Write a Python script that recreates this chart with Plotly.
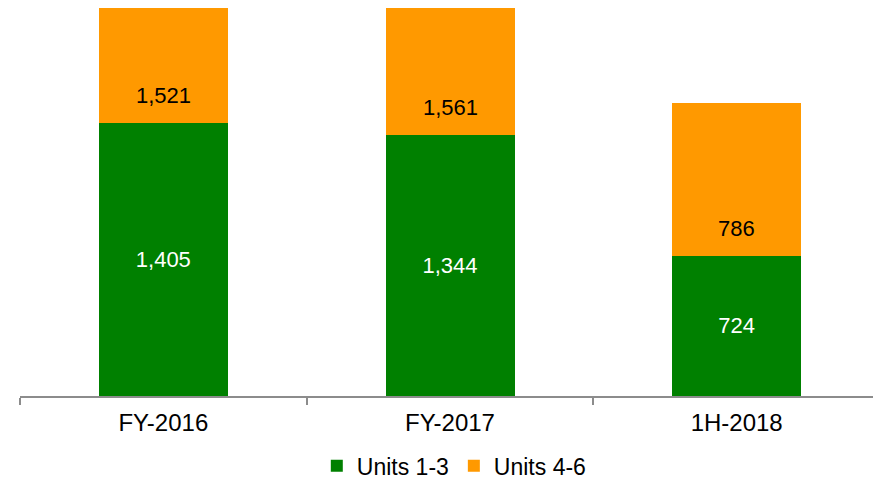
import plotly.graph_objects as go

categories = ["FY-2016", "FY-2017", "1H-2018"]
units_1_3 = [1405, 1344, 724]
units_4_6 = [1521, 1561, 786]

GREEN = "#008000"
ORANGE = "#FF9900"
FONT = "Liberation Sans, Arial, sans-serif"

def fmt(v):
    return f"{v:,}"

fig = go.Figure()
fig.add_trace(go.Bar(
    x=categories, y=units_1_3, name="Units 1-3",
    marker=dict(color=GREEN, line=dict(width=0)),
    text=[fmt(v) for v in units_1_3], textposition="inside",
    insidetextanchor="middle",
    textfont=dict(color="white", size=22, family=FONT),
    width=0.45,
))
fig.add_trace(go.Bar(
    x=categories, y=units_4_6, name="Units 4-6",
    marker=dict(color=ORANGE, line=dict(width=0)),
    width=0.45,
))

for c, g, o in zip(categories, units_1_3, units_4_6):
    fig.add_annotation(x=c, y=g, text=fmt(o), showarrow=False,
                       yanchor="bottom", yshift=13,
                       font=dict(color="black", size=22, family=FONT))

fig.update_layout(
    barmode="stack",
    width=873, height=472,
    margin=dict(l=12, r=1, t=0, b=84),
    paper_bgcolor="white", plot_bgcolor="white",
    font=dict(family=FONT, size=22, color="black"),
    showlegend=True,
    legend=dict(orientation="h", x=0.505, xanchor="center",
                yref="container", y=0.03, yanchor="middle",
                font=dict(size=23), traceorder="normal"),
    uniformtext=dict(minsize=22, mode="show"),
)
fig.update_xaxes(
    showline=True, linecolor="#8c8c8c", linewidth=2,
    ticks="outside", tickson="boundaries", ticklen=7, tickcolor="#8c8c8c",
    tickwidth=1.5, range=[-0.5, 2.5], tickfont=dict(size=24),
    ticklabelstandoff=4,
)
fig.update_yaxes(range=[0, 2000], visible=False, showgrid=False)

fig.write_html("out.html")
